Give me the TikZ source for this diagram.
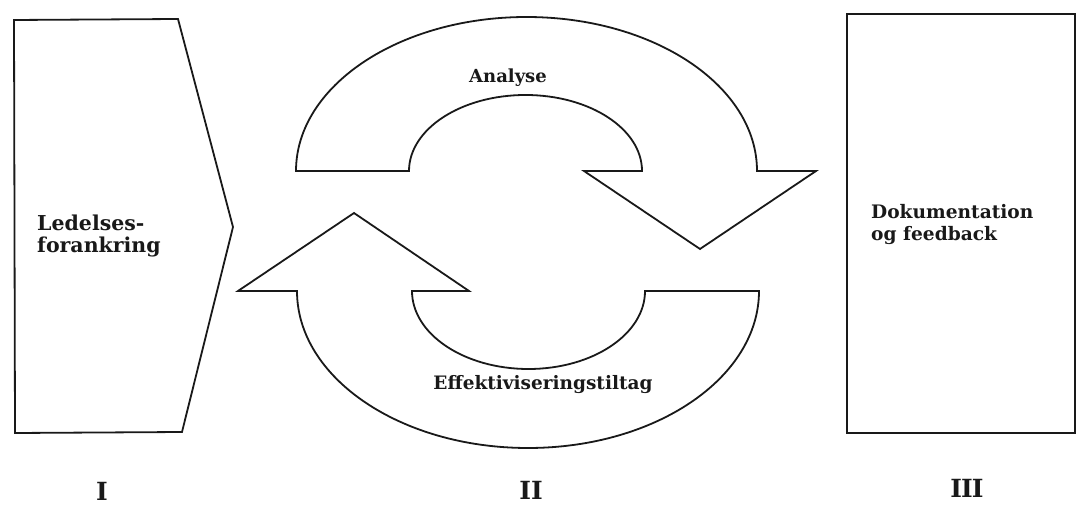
\documentclass[tikz,border=0pt]{standalone}
\usepackage{fontspec}
\setmainfont{DejaVu Serif}
\begin{document}
\begin{tikzpicture}[x=1pt,y=1pt,
  shapeline/.style={draw=black!90,line width=1.8pt,line join=miter},
  lbl/.style={font=\bfseries\fontsize{18}{22}\selectfont,inner sep=0pt,text=black!90},
  numlbl/.style={font=\bfseries\fontsize{25}{28}\selectfont,inner sep=0pt,text=black!90}]
\useasboundingbox (0,0) rectangle (1083,506);
% I: pentagon
\draw[shapeline] (14,486) -- (178,487) -- (233,279) -- (182,74) -- (15,73) -- cycle;
% III: rectangle
\draw[shapeline] (847,492) rectangle (1075,73);
% II: top circular arrow
\draw[shapeline] (296,335) arc[start angle=180,end angle=0,x radius=230.5,y radius=154]
  -- (816,335) -- (700,257) -- (584,335) -- (642,335)
  arc[start angle=0,end angle=180,x radius=116.5,y radius=76] -- cycle;
% II: bottom circular arrow
\draw[shapeline] (759,215) arc[start angle=0,end angle=-180,x radius=231,y radius=157]
  -- (238,215) -- (354,293) -- (469,215) -- (412,215)
  arc[start angle=180,end angle=360,x radius=116.5,y radius=78] -- cycle;
% labels
\node[lbl,font=\bfseries\fontsize{20.5}{22}\selectfont,anchor=west,align=left] (led) at (37,270) {Ledelses-\\forankring};
\node[lbl,font=\bfseries\fontsize{18.6}{22}\selectfont,anchor=west,align=left] (dok) at (871,281) {Dokumentation\\og feedback};
\node[lbl] (ana) at (508,428) {Analyse};
\node[lbl,font=\bfseries\fontsize{18.5}{22}\selectfont] (eff) at (543,121) {Effektiviseringstiltag};
\node[numlbl] (n1) at (102,15) {I};
\node[numlbl] (n2) at (531,16) {II};
\node[numlbl,font=\bfseries\fontsize{25}{28}\selectfont\addfontfeature{LetterSpace=-4}] (n3) at (967,18) {III};
\end{tikzpicture}
\end{document}
